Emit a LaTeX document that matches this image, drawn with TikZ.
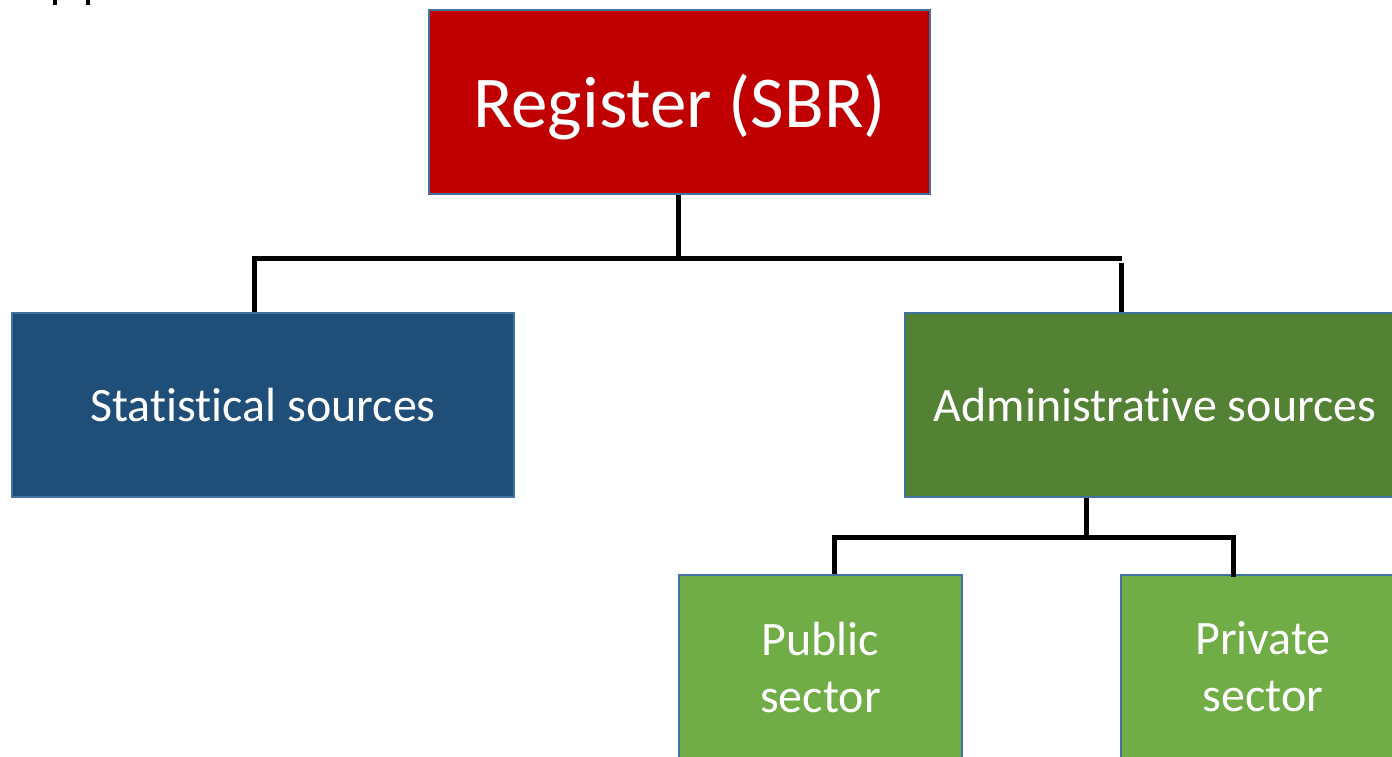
\documentclass[tikz,border=0pt]{standalone}
\usepackage{fontspec}
\setmainfont{Carlito}
\newcommand{\nolig}{\kern0pt\relax}
\definecolor{regred}{HTML}{C00000}
\definecolor{statblue}{HTML}{1F4E79}
\definecolor{admgreen}{HTML}{548235}
\definecolor{subgreen}{HTML}{70AD47}
\definecolor{edgeblue}{HTML}{41719C}
\tikzset{
  box/.style={draw=edgeblue, line width=2pt, text=white, align=center, inner sep=0pt},
  bigtxt/.style={font=\fontsize{73}{80}\selectfont},
  midtxt/.style={font=\fontsize{48}{57}\selectfont},
  conn/.style={draw=black, line width=5pt}
}
\begin{document}
\begin{tikzpicture}[x=1pt,y=-1pt]
\useasboundingbox (0,0) rectangle (1392,756);
\clip (0,0) rectangle (1392,756);
% cut-off text fragments at top left
\fill[black] (53,0) rectangle (57,5);
\fill[black] (86,0) rectangle (90,5);
% boxes
\node[box, fill=regred, minimum width=501pt, minimum height=184pt] (reg) at (679.5,102) {};
\node[bigtxt, text=white, inner sep=0pt] (regt) at (679.5,107) {Register (SBR)};
\node[box, midtxt, fill=statblue, minimum width=502pt, minimum height=184pt] (stat) at (263,405) {Stat\nolig ist\nolig ical sources};
\node[box, midtxt, fill=admgreen, minimum width=500pt, minimum height=184pt] (adm) at (1155,405) {Administrat\nolig ive sources};
\node[box, midtxt, fill=subgreen, minimum width=283pt, minimum height=184pt] (pub) at (820.5,667) {Public\\sector};
\node[box, midtxt, fill=subgreen, minimum width=284pt, minimum height=184pt] (priv) at (1263,667) {Private\\sector};
% connectors level 1
\coordinate (a0) at (678,258);
\coordinate (aL) at (254,258);
\coordinate (aR) at (1122,258);
\coordinate (aRtop) at (1121,263);
\draw[conn] (reg.south -| a0) -- (a0);
\draw[conn] (stat.north -| aL) |- (aR);
\draw[conn] (aRtop) -- (adm.north -| aRtop);
% connectors level 2
\coordinate (b0) at (1086,537);
\coordinate (bL) at (834,537);
\coordinate (bR) at (1233,537);
\draw[conn] (adm.south -| b0) -- (b0);
\draw[conn] (pub.north -| bL) |- (bR) -- ([yshift=-3pt]priv.north -| bR);
\end{tikzpicture}
\end{document}
